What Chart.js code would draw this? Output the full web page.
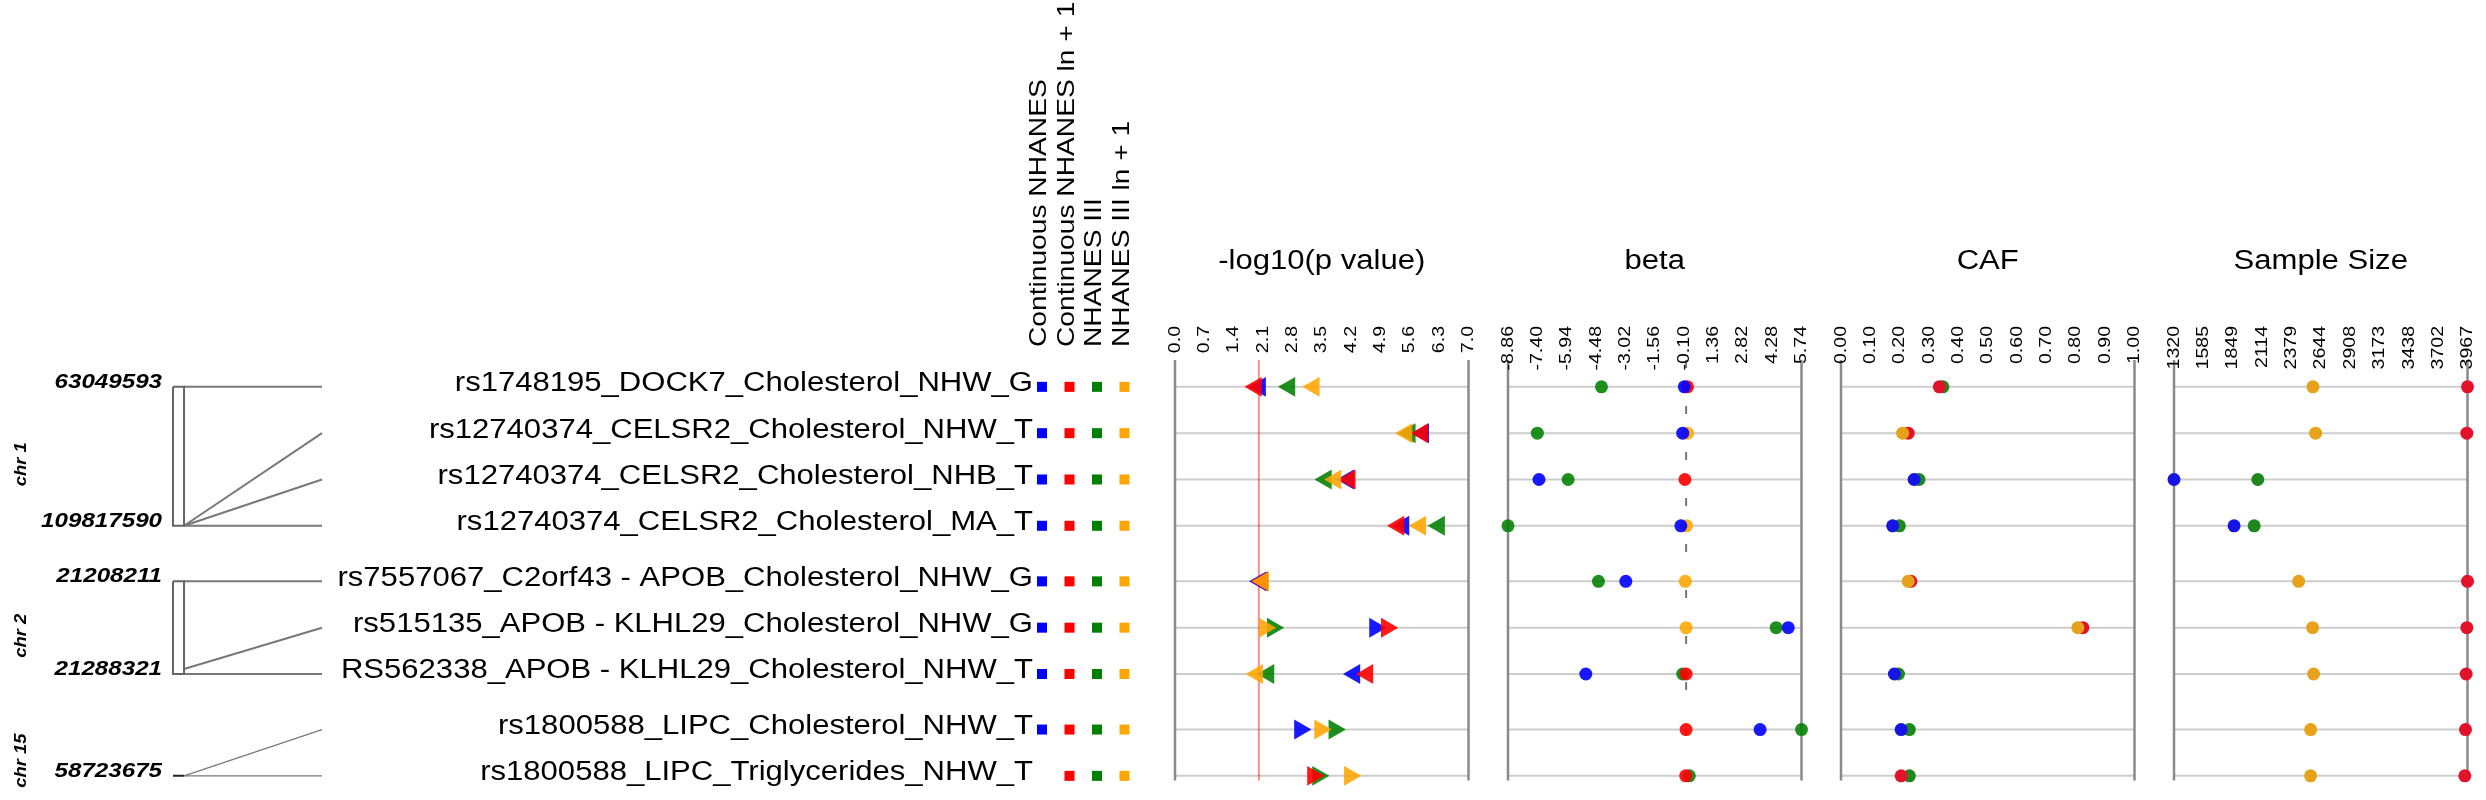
<!DOCTYPE html>
<html>
<head>
<meta charset="utf-8">
<script src="https://cdn.jsdelivr.net/npm/chart.js@4.4.0/dist/chart.umd.min.js"></script>
<style>
  body { margin: 0; background: #fff; }
  #wrap { position: relative; width: 2486px; height: 800px; background: #fff; }
  #wrap canvas { position: absolute; left: 0; top: 0; }
</style>
</head>
<body>
<div id="wrap">
  <canvas id="left" width="2486" height="800"></canvas>
  <canvas id="panel0" width="2486" height="800"></canvas>
  <canvas id="panel1" width="2486" height="800"></canvas>
  <canvas id="panel2" width="2486" height="800"></canvas>
  <canvas id="panel3" width="2486" height="800"></canvas>
</div>
<script>
// ---------- data ----------
const snpLabels = [
  'rs1748195_DOCK7_Cholesterol_NHW_G',
  'rs12740374_CELSR2_Cholesterol_NHW_T',
  'rs12740374_CELSR2_Cholesterol_NHB_T',
  'rs12740374_CELSR2_Cholesterol_MA_T',
  'rs7557067_C2orf43 - APOB_Cholesterol_NHW_G',
  'rs515135_APOB - KLHL29_Cholesterol_NHW_G',
  'RS562338_APOB - KLHL29_Cholesterol_NHW_T',
  'rs1800588_LIPC_Cholesterol_NHW_T',
  'rs1800588_LIPC_Triglycerides_NHW_T'
];
const snpChrom = ['chr 1', 'chr 1', 'chr 1', 'chr 1', 'chr 2', 'chr 2', 'chr 2', 'chr 15', 'chr 15'];
const snpPosition = [63049593, 109817590, 109817590, 109817590, 21208211, 21284000, 21288321, 58723675, 58723675];

const chromNames = ['chr 1', 'chr 2', 'chr 15'];
const chromStart = [63049593, 21208211, 58723675];
const chromEnd = [109817590, 21288321, 58723675];

const studies = ['Continuous NHANES', 'Continuous NHANES ln + 1', 'NHANES III', 'NHANES III ln + 1'];

// -1 = triangle points left, 1 = points right
const triangleDir = [-1, -1, -1, -1, -1, 1, -1, 1, 1];

// -log10(p value)
const logpContinuous   = [2.03, 5.92, 4.13, 5.45, 2.04, 4.77, 4.28, 2.98, null];
const logpContinuousLn = [1.93, 5.90, 4.17, 5.33, 2.08, 5.05, 4.59, null, 3.29];
const logpNhanes3      = [2.73, 5.60, 3.60, 6.30, 2.09, 2.33, 2.23, 3.80, 3.41];
const logpNhanes3Ln    = [3.31, 5.52, 3.83, 5.85, 2.10, 2.14, 1.96, 3.46, 4.17];

// beta
const betaContinuous   = [-0.09, -0.17, -7.32, -0.26, -3.00, 5.08, -4.99, 3.68, null];
const betaContinuousLn = [0.07, null, -0.06, null, null, null, 0.00, 0.00, -0.02];
const betaNhanes3      = [-4.21, -7.40, -5.87, -8.86, -4.36, 4.48, -0.17, 5.74, 0.16];
const betaNhanes3Ln    = [null, 0.07, null, 0.02, -0.04, 0.00, null, null, null];

// coded allele frequency
const cafContinuous   = [null, null, 0.249, 0.176, null, null, 0.182, 0.205, null];
const cafContinuousLn = [0.335, 0.229, null, null, 0.238, 0.824, null, null, 0.205];
const cafNhanes3      = [0.347, null, 0.266, 0.199, null, null, 0.196, 0.233, 0.233];
const cafNhanes3Ln    = [null, 0.210, null, null, 0.229, 0.807, null, null, null];

// sample size
const sizeContinuous   = [null, null, 1320, 1862, null, null, null, null, null];
const sizeContinuousLn = [3967, 3961, null, null, 3967, 3961, 3955, 3949, 3943];
const sizeNhanes3      = [null, null, 2076, 2043, null, null, null, null, null];
const sizeNhanes3Ln    = [2573, 2597, null, null, 2444, 2570, 2579, 2552, 2552];

const logpTicks = ['0.0', '0.7', '1.4', '2.1', '2.8', '3.5', '4.2', '4.9', '5.6', '6.3', '7.0'];
const betaTicks = ['-8.86', '-7.40', '-5.94', '-4.48', '-3.02', '-1.56', '-0.10', '1.36', '2.82', '4.28', '5.74'];
const cafTicks = ['0.00', '0.10', '0.20', '0.30', '0.40', '0.50', '0.60', '0.70', '0.80', '0.90', '1.00'];
const sizeTicks = ['1320', '1585', '1849', '2114', '2379', '2644', '2908', '3173', '3438', '3702', '3967'];

// ---------- layout / style ----------
const W = 2486, H = 800;
const CHART_TOP = 360, CHART_BOTTOM = 780.5;
const Y_MIN = -0.58, Y_MAX = 8.5;
const GROUP_GAP = 0.2;
const PANEL_LEFT = 1175, PANEL_STEP = 333, PANEL_WIDTH = 293.5;
const TITLE_Y = 262, TICK_TOP = 326;
const LABEL_RIGHT = 1033, LEGEND_BASE = 347;
const SWATCH_X = [1042, 1069.5, 1097, 1124.5];
const BAR_LEFT = 173, LINK_RIGHT = 322, BAR_X = -0.08;
const LINK_WIDTH = [2, 2, 1.2];
const STRETCH = 1.15;
const FONT = '"Liberation Sans", Arial, Helvetica, sans-serif';

const swatchColors = ['#0000ff', '#ff0000', '#008000', '#ffa500'];
const markColors = ['rgba(0,0,255,0.9)', 'rgba(255,0,0,0.9)', 'rgba(0,128,0,0.88)', 'rgba(255,165,0,0.88)'];
const dotColors = ['#1414e6', '#e3122b', '#1e881e', '#e6a21a'];

const rowY = snpChrom.map((c, i) => i + GROUP_GAP * chromNames.indexOf(c));

const logpSeries = [logpContinuous, logpContinuousLn, logpNhanes3, logpNhanes3Ln];
const betaSeries = [betaContinuous, betaContinuousLn, betaNhanes3, betaNhanes3Ln];
const cafSeries = [cafContinuous, cafContinuousLn, cafNhanes3, cafNhanes3Ln];
const sizeSeries = [sizeContinuous, sizeContinuousLn, sizeNhanes3, sizeNhanes3Ln];

const hasData = (s, i) => [logpSeries, betaSeries, cafSeries, sizeSeries].some(set => set[s][i] != null);

function groupRows(chrom) {
  return rowY.filter((_, k) => snpChrom[k] === chrom);
}

function posToRow(chrom, pos) {
  const g = chromNames.indexOf(chrom);
  const rows = groupRows(chrom);
  const top = Math.min(...rows), bot = Math.max(...rows);
  const span = chromEnd[g] - chromStart[g];
  return span ? top + (pos - chromStart[g]) / span * (bot - top) : bot;
}

// text is a little wide along its own reading direction, so stretch after rotating
function drawText(ctx, str, x, y, font, opts = {}) {
  ctx.save();
  ctx.translate(x, y);
  if (opts.rotate) ctx.rotate(-Math.PI / 2);
  ctx.scale(STRETCH, 1);
  ctx.font = font;
  ctx.fillStyle = opts.color || '#000';
  ctx.textAlign = opts.align || 'left';
  ctx.textBaseline = opts.baseline || 'middle';
  ctx.fillText(str, 0, 0);
  ctx.restore();
}

function strokeLine(ctx, x1, y1, x2, y2) {
  ctx.beginPath();
  ctx.moveTo(x1, y1);
  ctx.lineTo(x2, y2);
  ctx.stroke();
}

const baseOptions = (left, right, xMin, xMax) => ({
  responsive: false,
  animation: false,
  events: [],
  layout: { padding: { left: left, right: W - right, top: CHART_TOP, bottom: H - CHART_BOTTOM } },
  scales: {
    x: { type: 'linear', min: xMin, max: xMax, display: false },
    y: { type: 'linear', min: Y_MIN, max: Y_MAX, reverse: true, display: false }
  },
  plugins: { legend: { display: false }, tooltip: { enabled: false } }
});

// ---------- left part: labels, chromosome bars and links ----------
const leftSets = [];
chromNames.forEach((c, g) => {
  const y0 = posToRow(c, chromStart[g]);
  const y1 = posToRow(c, chromEnd[g]);
  leftSets.push({
    data: [{ x: BAR_X, y: y0 }, { x: 0, y: y0 }, { x: 0, y: y1 }, { x: BAR_X, y: y1 }, { x: BAR_X, y: y0 }],
    borderColor: g === 2 ? '#222' : '#666',
    borderWidth: 2
  });
});
snpLabels.forEach((_, i) => {
  const g = chromNames.indexOf(snpChrom[i]);
  leftSets.push({
    data: [{ x: 0, y: posToRow(snpChrom[i], snpPosition[i]) }, { x: 1, y: rowY[i] }],
    borderColor: '#787878',
    borderWidth: LINK_WIDTH[g]
  });
});
leftSets.forEach(d => Object.assign(d, { showLine: true, pointRadius: 0, clip: false, fill: false }));

const leftDecor = {
  id: 'leftDecor',
  afterDraw(chart) {
    const { ctx, scales: { x, y } } = chart;
    rowY.forEach((r, i) => {
      const py = y.getPixelForValue(r);
      drawText(ctx, snpLabels[i], LABEL_RIGHT, py - 3, `27px ${FONT}`, { align: 'right' });
      SWATCH_X.forEach((sx, s) => {
        if (!hasData(s, i)) return;
        ctx.fillStyle = swatchColors[s];
        ctx.fillRect(sx - 5, py - 5, 10, 10);
      });
    });
    studies.forEach((name, s) => {
      drawText(ctx, name, SWATCH_X[s] - 2.5, LEGEND_BASE, `24.5px ${FONT}`, { rotate: true, align: 'left' });
    });
    const barLeft = x.getPixelForValue(BAR_X);
    chromNames.forEach((c, g) => {
      const yA = y.getPixelForValue(posToRow(c, chromStart[g]));
      const yB = y.getPixelForValue(posToRow(c, chromEnd[g]));
      drawText(ctx, String(chromStart[g]), barLeft - 11, yA - 5, `italic bold 21px ${FONT}`, { align: 'right' });
      if (chromEnd[g] !== chromStart[g]) {
        drawText(ctx, String(chromEnd[g]), barLeft - 11, yB - 5, `italic bold 21px ${FONT}`, { align: 'right' });
      }
      const rows = groupRows(c);
      const mid = y.getPixelForValue((Math.min(...rows) + Math.max(...rows)) / 2) + 8;
      drawText(ctx, c, 21.5, mid, `italic bold 16px ${FONT}`, { rotate: true, align: 'center' });
    });
  }
};

new Chart(document.getElementById('left'), {
  type: 'scatter',
  data: { datasets: leftSets },
  options: baseOptions(BAR_LEFT, LINK_RIGHT, BAR_X, 1),
  plugins: [leftDecor]
});

// ---------- the four panels ----------
const panels = [
  { title: '-log10(p value)', ticks: logpTicks, series: logpSeries, marker: 'triangle', radius: 11.5,
    colors: markColors, order: [2, 1, 3, 0], ref: { value: 2, color: 'rgba(255,0,0,0.45)', dash: [] } },
  { title: 'beta', ticks: betaTicks, series: betaSeries, marker: 'circle', radius: 6.5,
    colors: markColors, order: [0, 1, 3, 2], ref: { value: 0, color: '#777', dash: [8, 38] } },
  { title: 'CAF', ticks: cafTicks, series: cafSeries, marker: 'circle', radius: 6.5,
    colors: dotColors, order: [1, 2, 3, 0], ref: null },
  { title: 'Sample Size', ticks: sizeTicks, series: sizeSeries, marker: 'circle', radius: 6.5,
    colors: dotColors, order: [1, 2, 3, 0], ref: null }
];

panels.forEach((p, k) => {
  const left = PANEL_LEFT + k * PANEL_STEP;
  const xMin = Number(p.ticks[0]);
  const xMax = Number(p.ticks[p.ticks.length - 1]);

  const decor = {
    id: 'panelDecor' + k,
    beforeDatasetsDraw(chart) {
      const { ctx, chartArea: a, scales: { x, y } } = chart;
      ctx.save();
      ctx.strokeStyle = '#cdcdcd';
      ctx.lineWidth = 2;
      rowY.forEach(r => {
        const py = y.getPixelForValue(r);
        strokeLine(ctx, a.left, py, a.right, py);
      });
      ctx.strokeStyle = '#8a8a8a';
      ctx.lineWidth = 2.5;
      [xMin, xMax].forEach(v => {
        const px = x.getPixelForValue(v);
        strokeLine(ctx, px, a.top, px, a.bottom);
      });
      if (p.ref) {
        const px = x.getPixelForValue(p.ref.value);
        ctx.strokeStyle = p.ref.color;
        ctx.lineWidth = 2;
        ctx.setLineDash(p.ref.dash);
        strokeLine(ctx, px, a.top, px, a.bottom);
      }
      ctx.restore();
    },
    afterDraw(chart) {
      const { ctx, chartArea: a, scales: { x } } = chart;
      drawText(ctx, p.title, (a.left + a.right) / 2, TITLE_Y, `27px ${FONT}`, { align: 'center' });
      p.ticks.forEach(t => {
        drawText(ctx, t, x.getPixelForValue(Number(t)), TICK_TOP, `17px ${FONT}`, { rotate: true, align: 'right' });
      });
    }
  };

  new Chart(document.getElementById('panel' + k), {
    type: 'scatter',
    data: {
      datasets: p.series.map((vals, s) => ({
        label: studies[s],
        data: vals.map((v, i) => ({ x: v, y: v == null ? null : rowY[i] })),
        order: p.order[s],
        clip: false,
        pointStyle: p.marker,
        pointRadius: p.radius,
        pointBorderWidth: 0,
        pointBorderColor: 'rgba(0,0,0,0)',
        pointBackgroundColor: p.colors[s],
        pointRotation: p.marker === 'triangle' ? (c => triangleDir[c.dataIndex] > 0 ? 90 : -90) : 0
      }))
    },
    options: baseOptions(left, left + PANEL_WIDTH, xMin, xMax),
    plugins: [decor]
  });
});
</script>
</body>
</html>
